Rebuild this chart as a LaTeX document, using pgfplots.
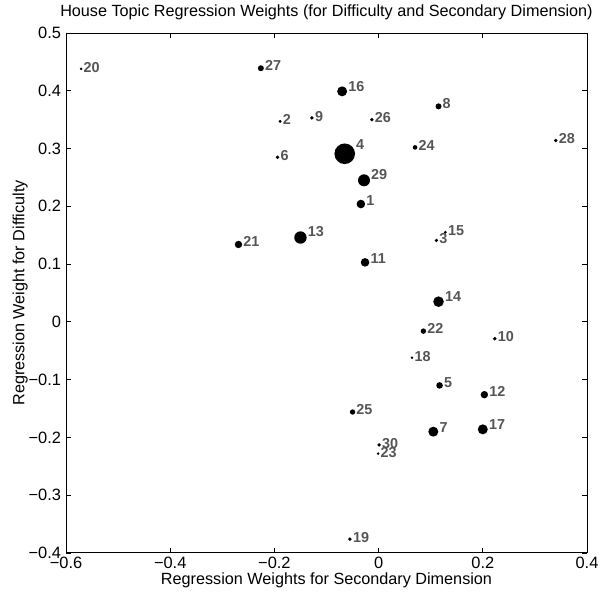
\documentclass[border=0pt]{standalone}
\usepackage{pgfplots}
\pgfplotsset{compat=1.18}
\usepackage{pgfplotstable}
\usepackage{fontspec}
\setmainfont{Liberation Sans}

\definecolor{lblgray}{RGB}{85,85,85}

% topic id, weight for secondary dimension, weight for difficulty, marker radius (pt)
\pgfplotstableread{
label x y r
1 -0.034 0.204 2.15
2 -0.189 0.347 0.8
3 0.111 0.141 0.9
4 -0.065 0.291 5.15
5 0.117 -0.110 1.65
6 -0.194 0.285 0.95
7 0.105 -0.190 2.5
8 0.115 0.373 1.5
9 -0.128 0.353 0.95
10 0.223 -0.029 0.95
11 -0.026 0.103 2.15
12 0.203 -0.126 1.85
13 -0.150 0.146 3.1
14 0.115 0.035 2.65
15 0.128 0.155 0.8
16 -0.070 0.399 2.5
17 0.200 -0.186 2.5
18 0.064 -0.062 0.7
19 -0.055 -0.376 0.95
20 -0.571 0.438 0.7
21 -0.269 0.134 1.85
22 0.086 -0.016 1.35
23 -0.001 -0.228 0.7
24 0.070 0.302 1.15
25 -0.050 -0.156 1.35
26 -0.013 0.350 0.95
27 -0.226 0.439 1.5
28 0.340 0.314 0.95
29 -0.028 0.245 3.0
30 0.001 -0.213 0.95
}\weights

\begin{document}
\begin{tikzpicture}
\useasboundingbox (-33pt,-19.5pt) rectangle (267pt,276.5pt);
\begin{axis}[
  at={(0,0)}, anchor=south west,
  scale only axis, width=260.5pt, height=260pt,
  xmin=-0.6, xmax=0.4, ymin=-0.4, ymax=0.5,
  xtick={-0.6,-0.4,-0.2,0,0.2,0.4},
  xticklabels={−0.6,−0.4,−0.2,0,0.2,0.4},
  ytick={-0.4,-0.3,-0.2,-0.1,0,0.1,0.2,0.3,0.4,0.5},
  yticklabels={−0.4,−0.3,−0.2,−0.1,0,0.1,0.2,0.3,0.4,0.5},
  tick align=inside, tick pos=both,
  major tick length=2.5pt,
  tick style={black, line width=0.4pt},
  axis line style={line width=0.5pt},
  ticklabel style={font=\fontsize{8.2}{9}\selectfont},
  xticklabel style={yshift=1.5pt},
  yticklabel style={xshift=1pt},
  label style={font=\fontsize{8.1}{9}\selectfont},
  xlabel={Regression Weights for Secondary Dimension},
  ylabel={Regression Weight for Difficulty},
  xlabel style={at={(axis description cs:0.5,-0.06)}, anchor=base},
  ylabel style={at={(axis description cs:-0.088,0.5)}, anchor=center},
  title={House Topic Regression Weights (for Difficulty and Secondary Dimension)},
  title style={font=\fontsize{8.1}{9}\selectfont, yshift=-3pt},
  clip=false,
]
% filled discs, radius taken from the r column
\addplot[
  only marks, mark=none,
  visualization depends on={\thisrow{r} \as \msize},
  nodes near coords={},
  every node near coord/.style={
    circle, fill=black, draw=none, inner sep=0pt, outer sep=0pt,
    minimum size=2*\msize pt, anchor=center},
] table[x=x, y=y] {\weights};
% topic numbers beside each disc
\addplot[
  only marks, mark=none,
  point meta=\thisrow{label},
  visualization depends on={\thisrow{r} \as \msize},
  nodes near coords={\pgfmathprintnumber[assume math mode=true]{\pgfplotspointmeta}},
  every node near coord/.append style={
    anchor=west, inner sep=0pt,
    xshift=\msize pt+0.4pt, yshift=0.9*\msize pt,
    font=\fontsize{7.2}{8}\selectfont\bfseries, text=lblgray},
] table[x=x, y=y] {\weights};
\end{axis}
\end{tikzpicture}
\end{document}
